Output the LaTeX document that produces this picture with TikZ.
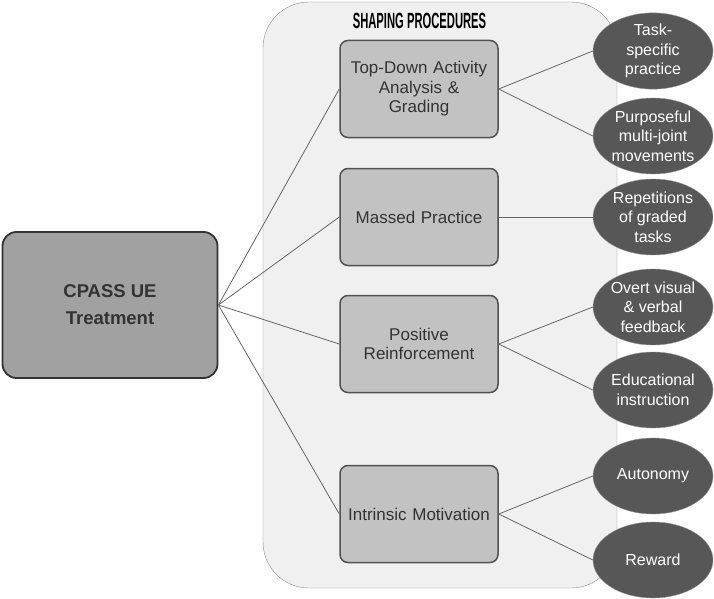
\documentclass[tikz,border=0pt]{standalone}
\usepackage{fontspec}
\setmainfont{Liberation Sans}
\usetikzlibrary{shapes.geometric}

\begin{document}
\begin{tikzpicture}[
    x=1pt, y=-1pt,
    every node/.style={font=\fontsize{17}{19.5}\selectfont, text=black!80},
    panel/.style={rectangle, draw=black!45, fill=black!6, rounded corners=46pt, minimum width=354pt, minimum height=586pt},
    root/.style={rectangle, draw=black!80, line width=1.8pt, fill=black!37, rounded corners=14pt, minimum width=215pt, minimum height=146pt, align=center, font=\fontsize{18.5}{27}\selectfont\bfseries},
    proc/.style={rectangle, draw=black!68, line width=1.5pt, fill=black!24, rounded corners=8pt, minimum width=158pt, minimum height=97pt, text width=150pt, align=center},
    leaf/.style={ellipse, draw=black!40, fill=black!66, minimum width=120pt, minimum height=76pt, inner sep=0pt, align=center, text=white, font=\fontsize{16}{19.5}\selectfont},
    link/.style={draw=black!60, line width=0.8pt},
]

\useasboundingbox (0,0) rectangle (714,599);

% Shaping procedures panel
\node[panel] (panel) at (440,295) {};
\node[font=\fontsize{22}{22}\selectfont\bfseries, text=black] (title) at (419.5,20.5) {\scalebox{0.51}[1]{SHAPING PROCEDURES}};

% Treatment
\node[root] (cpass) at (110,305) {CPASS UE\\Treatment};

% Procedures
\node[proc] (topdown) at (419,89) {Top-Down Activity\\Analysis \&\\Grading};
\node[proc] (massed) at (419,217) {Massed Practice};
\node[proc] (positive) at (419,344) {Positive\\Reinforcement};
\node[proc] (intrinsic) at (419,514) {Intrinsic Motivation};

% Techniques
\node[leaf] (taskspec) at (653,51) {Task-\\specific\\practice};
\node[leaf] (purposeful) at (653,136) {Purposeful\\multi-joint\\movements};
\node[leaf] (repetitions) at (653,217) {Repetitions\\of graded\\tasks};
\node[leaf] (overt) at (653,307) {Overt visual\\\& verbal\\feedback};
\node[leaf] (educational) at (653,390) {Educational\\instruction};
\node[leaf] (autonomy) at (653,476) {Autonomy};
\node[leaf] (reward) at (653,560) {Reward};

% Links
\foreach \p in {topdown, massed, positive, intrinsic}
    \draw[link] (cpass.east) -- (\p.west);
\draw[link] (topdown.east) -- (taskspec.west);
\draw[link] (topdown.east) -- (purposeful.west);
\draw[link] (massed.east) -- (repetitions.west);
\draw[link] (positive.east) -- (overt.west);
\draw[link] (positive.east) -- (educational.west);
\draw[link] (intrinsic.east) -- (autonomy.west);
\draw[link] (intrinsic.east) -- (reward.west);

\end{tikzpicture}
\end{document}
